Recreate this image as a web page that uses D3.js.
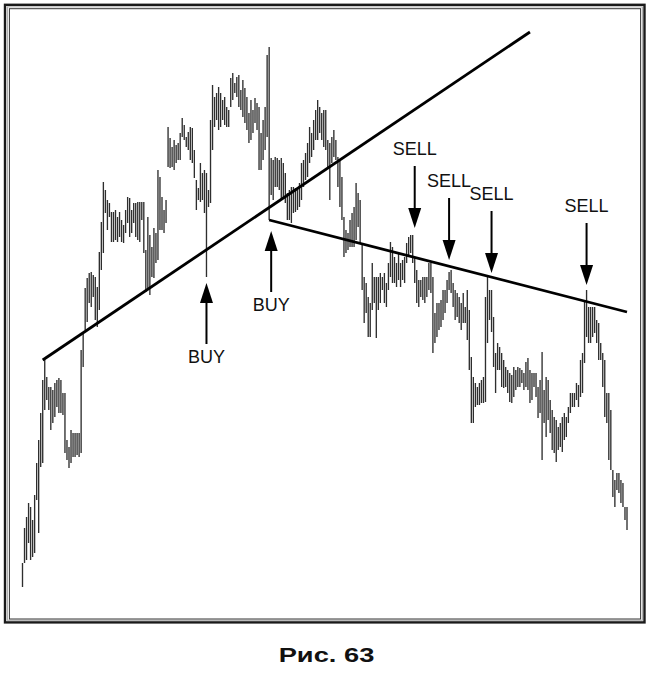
<!DOCTYPE html>
<html><head><meta charset="utf-8">
<script src="https://cdn.jsdelivr.net/npm/d3@7"></script>
<style>html,body{margin:0;padding:0;background:#fff;} svg{display:block;}</style>
</head><body>
<svg id="chart" width="650" height="677"></svg>
<script>
// Daily high / low prices (bar chart)
const highs = [
37,72,83,97,93,80,105,137,160,187,220,240,223,213,213,210,217,220,222,220,
207,207,160,153,170,167,167,167,167,250,267,312,322,327,328,325,323,313,348,378,
418,410,400,397,388,388,390,383,388,380,375,390,403,402,390,397,397,398,398,398,
398,350,383,365,353,372,367,430,423,403,390,400,473,462,453,460,455,457,467,482,
475,463,468,473,472,450,420,412,437,427,430,427,410,480,515,503,507,513,507,500,
503,493,490,522,527,517,523,525,510,520,512,503,487,500,490,502,497,493,467,480,
493,545,553,442,440,443,442,440,442,437,427,407,410,413,413,412,410,417,437,440,
447,457,473,467,480,490,500,493,487,490,490,460,457,463,470,460,443,440,423,383,
370,367,380,387,393,417,407,400,357,323,317,303,297,337,323,323,323,327,323,327,
317,337,358,353,343,337,347,337,340,343,357,363,365,365,343,330,320,320,323,323,
323,337,337,323,287,297,297,300,310,310,320,328,330,317,310,307,303,297,307,293,
310,290,243,223,217,213,217,220,223,303,325,310,310,283,247,257,253,247,240,233,
230,227,225,233,230,233,232,230,227,238,242,230,227,227,227,213,220,248,210,223,
220,200,190,183,180,173,177,183,187,183,193,207,207,207,217,215,240,247,300,310,
293,293,293,293,280,277,257,247,240,207,207,190,130,120,127,127,120,117,93,93
];
const lows = [
13,37,40,57,40,43,47,100,67,133,137,190,200,190,170,177,183,193,187,187,
185,147,140,132,137,143,143,145,143,147,233,270,278,297,293,303,280,273,290,330,
347,387,370,383,358,358,360,358,363,358,357,367,377,363,367,377,363,360,358,380,
347,308,310,305,323,322,337,340,370,370,367,377,433,432,433,430,437,440,440,463,
460,453,450,440,437,422,390,400,398,400,387,323,393,397,450,473,480,470,473,480,
475,473,473,493,500,507,503,493,490,483,477,470,457,460,467,477,470,430,430,440,
450,463,380,405,400,413,413,410,400,403,397,380,380,377,387,388,390,393,400,413,
420,423,437,443,450,460,460,467,460,453,450,433,400,437,443,440,413,393,380,343,
347,350,353,353,353,360,373,357,310,277,287,263,263,290,297,262,290,297,310,297,
293,310,323,317,317,313,320,313,320,317,337,343,347,337,317,297,293,303,300,297,
303,310,307,247,257,263,270,273,280,287,297,310,307,293,280,283,277,270,277,277,
260,230,177,177,193,195,195,197,197,198,257,280,268,233,207,230,230,213,212,213,
207,198,197,203,210,213,213,217,210,213,210,197,200,213,203,182,187,140,177,163,
180,167,150,147,138,150,153,148,160,163,177,187,193,193,200,193,203,207,237,263,
257,257,263,267,257,240,240,213,183,177,140,130,103,93,110,107,97,93,80,70
];
const days = d3.range(1, highs.length + 1);

// Trendlines: [day, price]
const upTrend = [[11, 240], [252, 568]];
const downTrend = [[123, 380], [300, 288]];

// Signals
const signalLabels = ["BUY", "BUY", "SELL", "SELL", "SELL", "SELL"];
const signalDays = [92, 124, 195, 212, 233, 280];
const signalPrices = [317, 369, 372, 340, 327, 315];

const caption = "Рис. 63";

const svg = d3.select("#chart");
const x = d3.scaleLinear().domain([1, highs.length]).range([22.5, 627]);
const y = d3.scaleLinear().domain([0, 600]).range([600, 0]);

// Frame (double border)
svg.append("rect").attr("x", 5).attr("y", 4.8).attr("width", 639.5).attr("height", 617.6)
  .attr("fill", "none").attr("stroke", "#1a1a1a").attr("stroke-width", 2.4);
svg.append("rect").attr("x", 7.4).attr("y", 6.9).attr("width", 635).attr("height", 613.4)
  .attr("fill", "none").attr("stroke", "#aaa").attr("stroke-width", 1);
svg.append("rect").attr("x", 9.4).attr("y", 8.7).attr("width", 631.2).attr("height", 610.3)
  .attr("fill", "none").attr("stroke", "#333").attr("stroke-width", 1);

// Bars
svg.append("g").selectAll("line").data(days).join("line")
  .attr("x1", d => x(d)).attr("x2", d => x(d))
  .attr("y1", (d, i) => y(highs[i])).attr("y2", (d, i) => y(lows[i]))
  .attr("stroke", "#2e2e2e").attr("stroke-width", 1.35);

// Trendlines
const line = d3.line().x(d => x(d[0])).y(d => y(d[1]));
[upTrend, downTrend].forEach(t => {
  svg.append("path").datum(t).attr("d", line)
    .attr("fill", "none").attr("stroke", "#000").attr("stroke-width", 2.8);
});

// Signal arrows
const ag = svg.append("g");
signalLabels.forEach((lab, i) => {
  const tx = x(signalDays[i]), ty = y(signalPrices[i]);
  const up = lab === "BUY";
  const dir = up ? 1 : -1;
  const shaft = up ? 61 : 62;
  ag.append("line").attr("x1", tx).attr("x2", tx)
    .attr("y1", ty + dir * 15).attr("y2", ty + dir * shaft)
    .attr("stroke", "#000").attr("stroke-width", 2);
  ag.append("path")
    .attr("d", `M${tx},${ty}L${tx - 6.5},${ty + dir * 20}L${tx + 6.5},${ty + dir * 20}Z`)
    .attr("fill", "#000");
  ag.append("text")
    .attr("x", tx).attr("y", up ? ty + shaft + 19 : ty - shaft - 11)
    .attr("text-anchor", "middle")
    .attr("font-family", "'Liberation Sans', Arial, sans-serif")
    .attr("font-size", 18).attr("fill", "#111")
    .text(lab);
});

// Caption
svg.append("text")
  .attr("transform", "translate(326.5,661.5) scale(1.3,1)")
  .attr("text-anchor", "middle")
  .attr("font-family", "'Liberation Sans', Arial, sans-serif")
  .attr("font-weight", "bold").attr("font-size", 21).attr("fill", "#111")
  .text(caption);
</script>
</body></html>
